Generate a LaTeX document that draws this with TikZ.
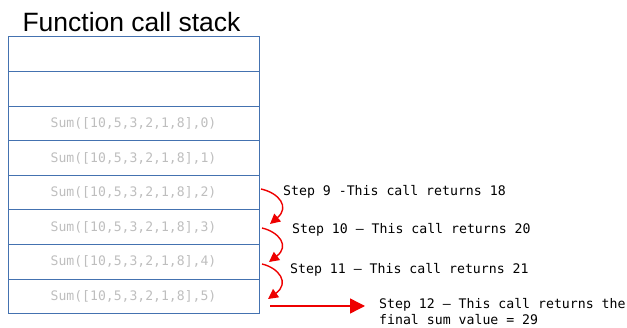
\documentclass[tikz,border=0pt]{standalone}
\usepackage{fontspec}
\setmainfont{Liberation Sans}
\newfontfamily\monofont{DejaVu Sans Mono}
\usetikzlibrary{arrows.meta}
\definecolor{stackblue}{RGB}{68,114,176}
\definecolor{callgray}{RGB}{190,190,190}
\definecolor{retred}{RGB}{238,0,0}
\tikzset{
  frame/.style={draw=stackblue, line width=1pt, minimum width=251pt, minimum height=34.6pt, inner sep=0pt,
    font=\monofont\fontsize{13.1}{15}\selectfont, text=callgray},
  steplabel/.style={anchor=west, inner sep=0pt, font=\monofont\fontsize{13.2}{16}\selectfont, text=black, align=left},
  retarrow/.style={draw=retred, line width=1.4pt, -{Triangle[length=10pt,width=10pt]}},
  finalarrow/.style={draw=retred, line width=1.4pt, -{Triangle[length=15pt,width=15pt]}}
}
\begin{document}
\begin{tikzpicture}[x=1pt,y=-1pt]
\useasboundingbox (0,0) rectangle (627,328);

% title
\node[anchor=base, inner sep=0pt, font=\fontsize{26.5}{30}\selectfont] (title) at (131.5,32) {Function call stack};

% stack frames, top to bottom
\node[frame] (r1) at (133.5,54.3) {};
\node[frame] (r2) at (133.5,88.9) {};
\node[frame] (r3) at (133.5,123.5) {Sum([10,5,3,2,1,8],0)};
\node[frame] (r4) at (133.5,158.1) {Sum([10,5,3,2,1,8],1)};
\node[frame] (r5) at (133.5,192.7) {Sum([10,5,3,2,1,8],2)};
\node[frame] (r6) at (133.5,227.3) {Sum([10,5,3,2,1,8],3)};
\node[frame] (r7) at (133.5,261.9) {Sum([10,5,3,2,1,8],4)};
\node[frame] (r8) at (133.5,296.5) {Sum([10,5,3,2,1,8],5)};

% return arrows
\coordinate (s5) at (261,189);
\coordinate (e5) at (270,224);
\coordinate (s6) at (262,228);
\coordinate (e6) at (269,262);
\coordinate (s7) at (262,264);
\coordinate (e7) at (268,299);
\draw[retarrow] (s5) .. controls (279,193) and (290,207) .. (e5);
\draw[retarrow] (s6) .. controls (279,232) and (290,246) .. (e6);
\draw[retarrow] (s7) .. controls (279,268) and (290,283) .. (e7);

\coordinate (s8) at (270,306);
\coordinate (e8) at (365,306);
\draw[finalarrow] (s8) -- (e8);

% step labels
\node[steplabel] (l9) at (283,191.5) {Step 9 -This call returns 18};
\node[steplabel] (l10) at (292,230) {Step 10 – This call returns 20};
\node[steplabel] (l11) at (290,270) {Step 11 – This call returns 21};
\node[steplabel] (l12) at (379,312) {Step 12 – This call returns the\\final sum value = 29};
\end{tikzpicture}
\end{document}
